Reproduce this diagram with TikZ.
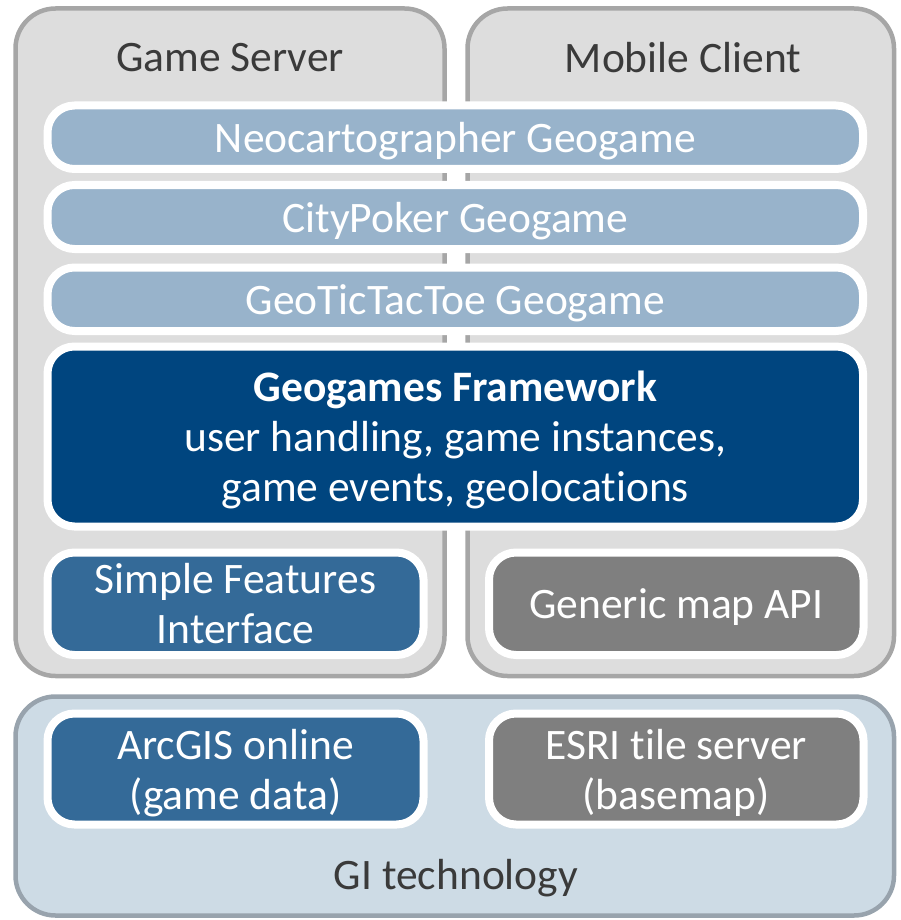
\documentclass[tikz,border=0pt]{standalone}
\usepackage{fontspec}
\setmainfont[Ligatures=NoCommon]{Carlito}
\definecolor{boxgray}{HTML}{DDDDDD}
\definecolor{boxgrayline}{HTML}{A6A6A6}
\definecolor{gifill}{HTML}{CDDBE5}
\definecolor{giline}{HTML}{98A3AD}
\definecolor{lightbar}{HTML}{98B3CB}
\definecolor{darkbar}{HTML}{00457F}
\definecolor{midbar}{HTML}{346A98}
\definecolor{graybar}{HTML}{7F7F7F}
\definecolor{titletext}{HTML}{3A3A3A}
\tikzset{
  container/.style={draw=boxgrayline, fill=boxgray, line width=4.5pt, rounded corners=40pt},
  gicontainer/.style={draw=giline, fill=gifill, line width=4.5pt, rounded corners=40pt},
  bar/.style={draw=white, line width=8pt, rounded corners=27pt, inner sep=0pt, text depth=0pt,
    text=white, align=center, font=\fontsize{43.5}{50}\selectfont},
  title/.style={text=titletext, inner sep=0pt, font=\fontsize{43.5}{50}\selectfont}
}
\begin{document}
\begin{tikzpicture}[x=1pt,y=-1pt]
\useasboundingbox (0,0) rectangle (901,920);
% containers
\draw[container] (15.5,8.5) rectangle (444.5,676);
\draw[container] (467.5,8.5) rectangle (894,676);
\draw[gicontainer] (15.5,696.5) rectangle (894,915.5);
% titles
\node[title] (gs) at (230,58) {Game Server};
\node[title] (mc) at (683,58) {Mobile Client};
\node[title] (gi) at (456,878) {GI technology};
% bars
\node[bar, fill=lightbar, minimum width=815.5pt, minimum height=63.5pt] (neo) at (455.25,137.25) {Neocartographer Geogame};
\node[bar, fill=lightbar, minimum width=815.5pt, minimum height=64pt] (city) at (455.25,217) {CityPoker Geogame};
\node[bar, fill=lightbar, minimum width=815.5pt, minimum height=63.5pt] (ttt) at (455.25,299.25) {GeoTicTacToe Geogame};
\node[bar, fill=darkbar, minimum width=815.5pt, minimum height=180pt] (fw) at (455.25,436.5)
  {\textbf{Geogames Framework}\\user handling, game instances,\\game events, geolocations};
\node[bar, fill=midbar, minimum width=376pt, minimum height=102.5pt] (sf) at (235.5,603.75)
  {Simple Features\\Interface};
\node[bar, fill=graybar, minimum width=374.5pt, minimum height=102.5pt] (map) at (676.25,603.75)
  {Generic map API};
\node[bar, fill=midbar, minimum width=376pt, minimum height=111pt] (arc) at (235.5,769)
  {ArcGIS online\\(game data)};
\node[bar, fill=graybar, minimum width=374.5pt, minimum height=111pt] (esri) at (676.25,769)
  {ESRI tile server\\(basemap)};
\end{tikzpicture}
\end{document}
